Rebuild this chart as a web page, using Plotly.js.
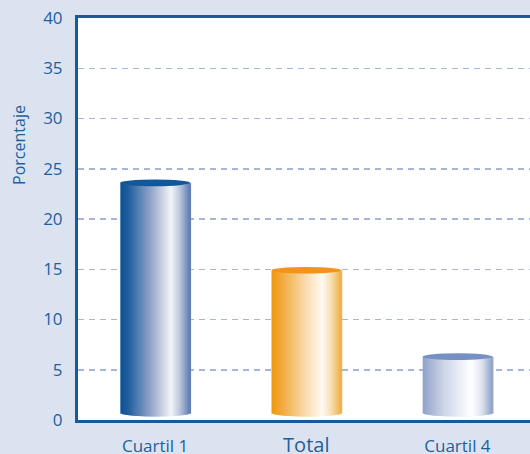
<!DOCTYPE html>
<html><head><meta charset="utf-8">
<script src="https://cdn.plot.ly/plotly-3.0.1.min.js"></script>
<style>html,body{margin:0;padding:0;background:#dce3f0;}</style>
</head><body><div id="chart" style="width:530px;height:454px;"></div>
<script>
const categories = ["Cuartil 1", "Total", "Cuartil 4"];
const values = [23.6, 14.9, 6.3];
const yTickVals = [0, 5, 10, 15, 20, 25, 30, 35, 40];
const yTitle = "Porcentaje";

// gradient stops per bar (style)
const gradients = [
  [[0,"#0a5096"],[0.12,"#22609f"],[0.45,"#97a8cb"],[0.73,"#f3f4f9"],[0.86,"#b9c4dc"],[1,"#5d7bb2"]],
  [[0,"#f0980c"],[0.12,"#f2a632"],[0.45,"#f8d6a4"],[0.73,"#fffaf2"],[0.86,"#f8ddb2"],[1,"#efae45"]],
  [[0,"#90a2c9"],[0.3,"#ccd4e7"],[0.7,"#ffffff"],[0.85,"#dfe4f0"],[1,"#8fa1c8"]]
];
const topColors = ["#11579a", "#f5921a", "#7591c3"];
const W = 0.46, N = 46, baseY = 0.7, hb = 0.35, ht = 0.33;

function hex(c){return [parseInt(c.slice(1,3),16),parseInt(c.slice(3,5),16),parseInt(c.slice(5,7),16)];}
function interp(stops,t){
  for(let i=1;i<stops.length;i++){
    if(t<=stops[i][0]){
      const a=stops[i-1],b=stops[i];const f=(t-a[0])/(b[0]-a[0]);
      const ca=hex(a[1]),cb=hex(b[1]);
      return "rgb("+ca.map((v,k)=>Math.round(v+(cb[k]-v)*f)).join(",")+")";
    }
  }
  return stops[stops.length-1][1];
}
const traces=[];
for(let k=0;k<N;k++){
  const t=(k+0.5)/N, u=2*t-1;
  const b = baseY-hb*Math.sqrt(1-u*u);
  traces.push({
    type:"bar", x:categories, y:values.map(v=>v-b),
    base: b,
    width: W/N*1.8, offset: -W/2+k*W/N,
    marker:{color:gradients.map(g=>interp(g,t)), line:{width:0}},
    hoverinfo:"skip", showlegend:false
  });
}
const shapes = values.map((v,i)=>({type:"circle",xref:"x",yref:"y",x0:i-W/2,x1:i+W/2,y0:v-ht,y1:v+ht,
  fillcolor:topColors[i],line:{width:0},layer:"above"}));

const tickText = categories.map(c => c === "Total" ? '<span style="font-size:20px">'+c+'</span>' : c);

const layout={
  width:530,height:454,
  margin:{l:78,r:0,t:18,b:34},
  paper_bgcolor:"#dce3f0", plot_bgcolor:"#ffffff",
  barmode:"overlay", showlegend:false,
  font:{family:"Open Sans, Liberation Sans, sans-serif",color:"#1d5f9e"},
  xaxis:{type:"category",range:[-0.51,2.48],tickvals:categories,ticktext:tickText,
    showgrid:false,showline:true,linecolor:"#17599a",linewidth:3,mirror:true,
    ticks:"",tickfont:{size:17,color:"#1d5f9e"},ticklabelstandoff:9,fixedrange:true},
  yaxis:{range:[0,40],tickvals:yTickVals,showgrid:true,gridcolor:"#a7b6d6",gridwidth:1.5,griddash:"6px,5px",
    showline:true,linecolor:"#17599a",linewidth:3,zeroline:false,ticks:"",tickfont:{size:17,color:"#1d5f9e"},
    ticklabelstandoff:9,fixedrange:true},
  shapes:shapes,
  annotations:[{text:yTitle,xref:"paper",yref:"paper",x:-0.132,y:0.685,xanchor:"center",yanchor:"middle",
    textangle:-90,showarrow:false,font:{size:16,color:"#1d5f9e"}}]
};
Plotly.newPlot("chart",traces,layout,{displayModeBar:false,staticPlot:true});
</script></body></html>
